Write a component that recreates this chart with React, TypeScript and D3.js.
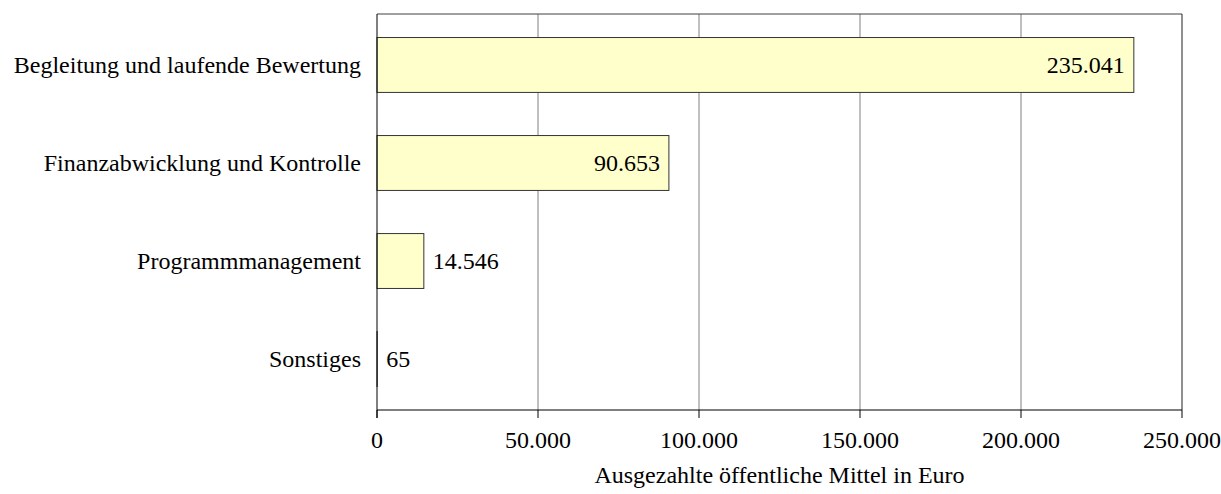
import React from "react";
import * as d3 from "d3";

const categories = [
  "Begleitung und laufende Bewertung",
  "Finanzabwicklung und Kontrolle",
  "Programmmanagement",
  "Sonstiges",
];
const values = [235041, 90653, 14546, 65];
const xTicks = [0, 50000, 100000, 150000, 200000, 250000];
const axisTitle = "Ausgezahlte öffentliche Mittel in Euro";

const W = 1221;
const H = 494;
const margin = { left: 377, right: 39, top: 14, bottom: 84 };
const FONT = "'Liberation Serif', 'Times New Roman', serif";
const FS = 24;

const fmt = (v: number) => d3.format(",")(v).replace(/,/g, ".");

export default function App() {
  const x = d3.scaleLinear().domain([0, 250000]).range([margin.left, W - margin.right]);
  const y = d3
    .scaleBand<string>()
    .domain(categories)
    .range([margin.top, H - margin.bottom])
    .paddingInner(0.44)
    .paddingOuter(0.24);
  const x0 = x(0);
  const top = margin.top;
  const bottom = H - margin.bottom;
  const right = W - margin.right;

  return (
    <svg
      width={W}
      height={H}
      style={{ position: "absolute", left: 0, top: 0, fontFamily: FONT }}
    >
      <rect x={0} y={0} width={W} height={H} fill="#fff" />
      {/* vertical grid lines */}
      {xTicks.slice(1, -1).map((t) => (
        <line key={t} x1={x(t)} x2={x(t)} y1={top} y2={bottom} stroke="#808080" strokeWidth={1} />
      ))}
      {/* plot frame */}
      <line x1={x0} x2={right} y1={top} y2={top} stroke="#404040" strokeWidth={1} />
      <line x1={right} x2={right} y1={top} y2={bottom} stroke="#202020" strokeWidth={1} />
      {/* bars */}
      {categories.map((c, i) => {
        const v = values[i];
        const by = y(c)!;
        const bw = x(v) - x0;
        const inside = bw > 120;
        return (
          <g key={c}>
            <rect
              x={x0}
              y={by}
              width={bw}
              height={y.bandwidth()}
              fill="#FFFFCC"
              stroke="#333"
              strokeWidth={1}
            />
            <text
              x={inside ? x(v) - 9 : x(v) + 9}
              y={by + y.bandwidth() / 2}
              dy="0.35em"
              textAnchor={inside ? "end" : "start"}
              fontSize={FS}
              fill="#000"
            >
              {fmt(v)}
            </text>
            <text
              x={x0 - 16}
              y={by + y.bandwidth() / 2}
              dy="0.35em"
              textAnchor="end"
              fontSize={FS}
              fill="#000"
            >
              {c}
            </text>
          </g>
        );
      })}
      {/* axes */}
      <line x1={x0} x2={x0} y1={top} y2={bottom + 8} stroke="#000" strokeWidth={1} />
      <line x1={x0} x2={right} y1={bottom} y2={bottom} stroke="#000" strokeWidth={1.2} />
      {xTicks.map((t) => (
        <g key={t}>
          <line x1={x(t)} x2={x(t)} y1={bottom} y2={bottom + 8} stroke="#000" strokeWidth={1} />
          <text x={x(t)} y={bottom + 38} textAnchor="middle" fontSize={FS} fill="#000">
            {fmt(t)}
          </text>
        </g>
      ))}
      <text x={(x0 + right) / 2} y={bottom + 73} textAnchor="middle" fontSize={FS} fill="#000">
        {axisTitle}
      </text>
    </svg>
  );
}
